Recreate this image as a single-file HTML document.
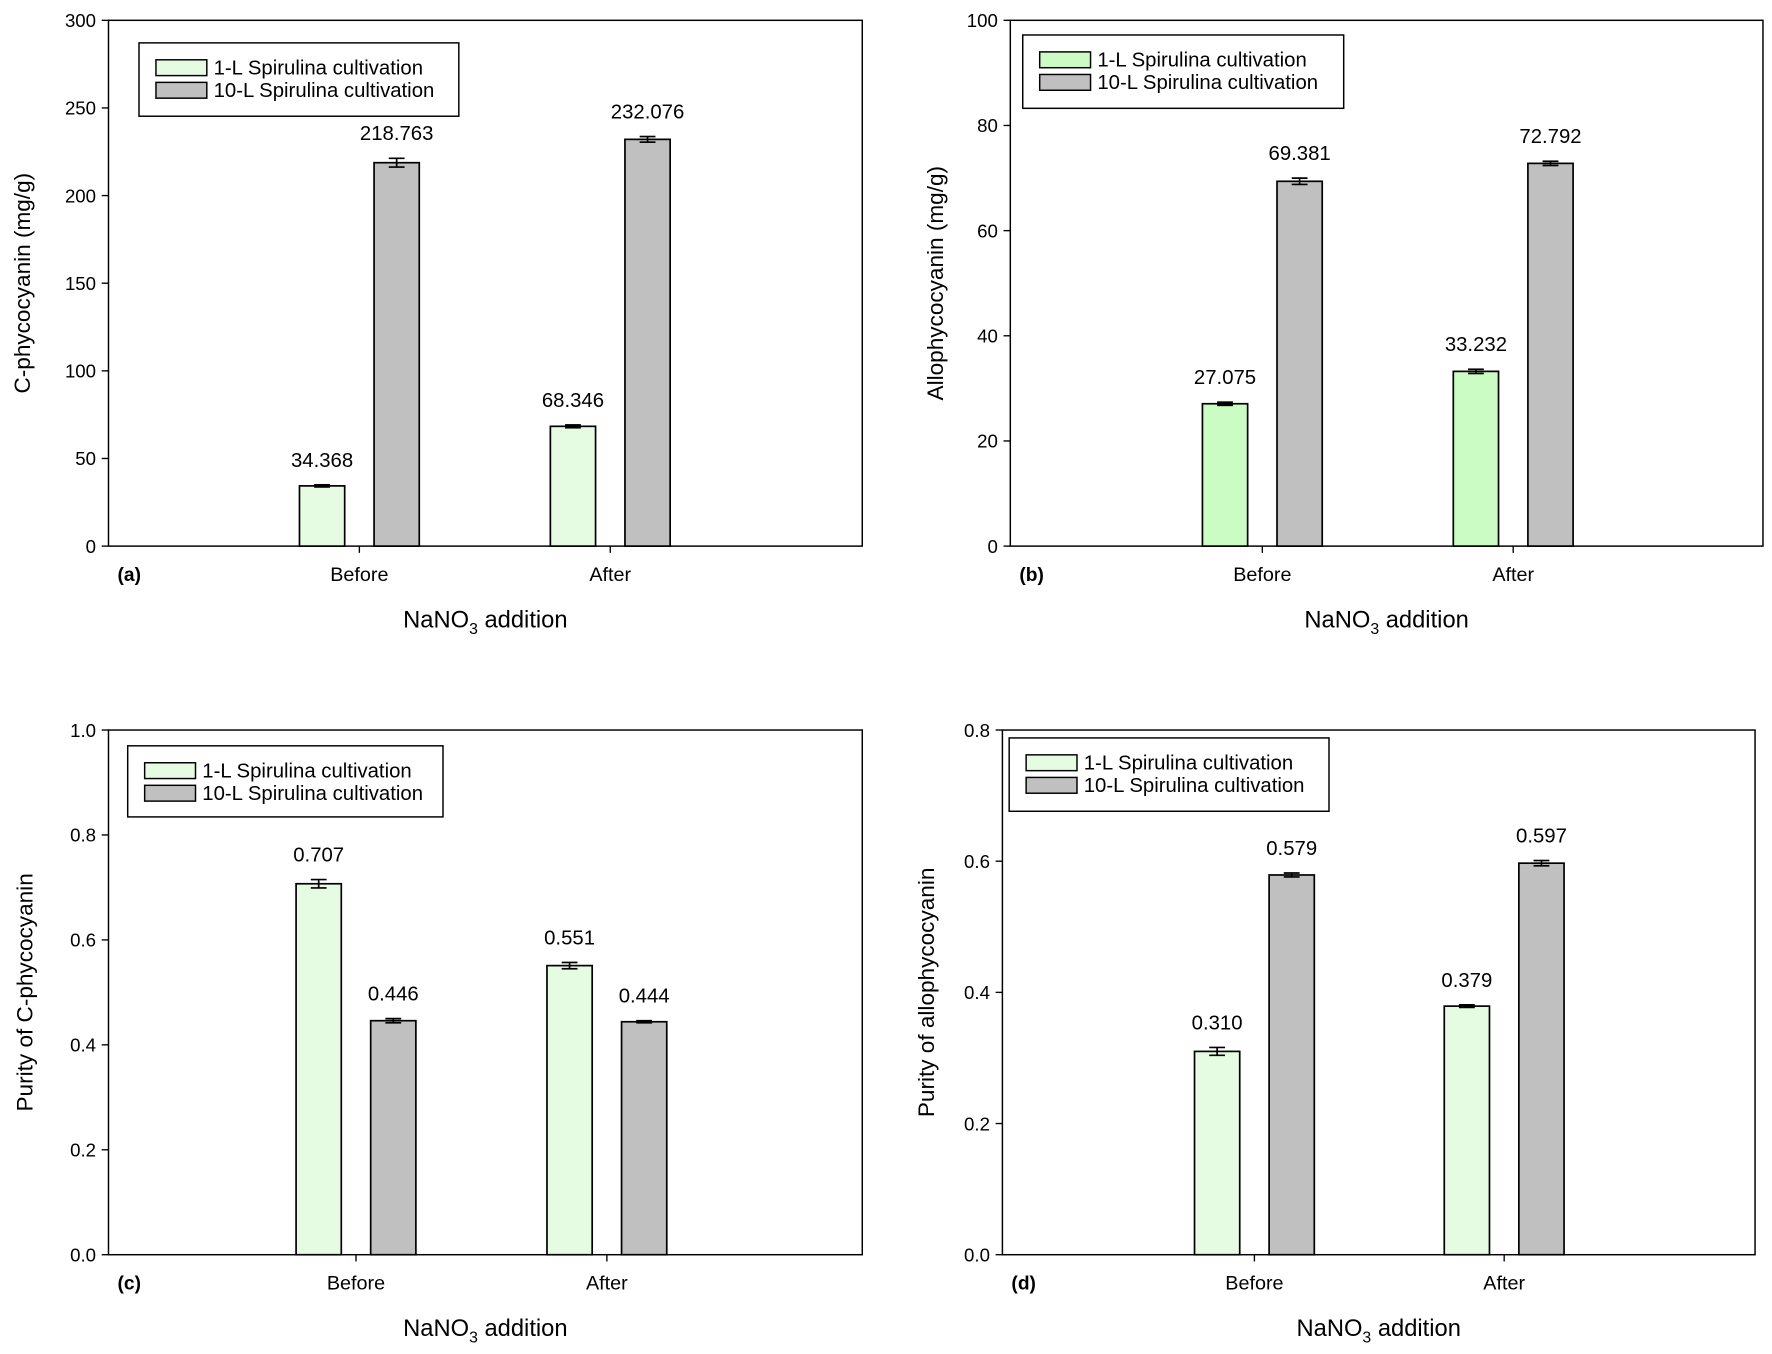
<!DOCTYPE html>
<html><head><meta charset="utf-8">
<style>
html,body{margin:0;padding:0;background:#fff;}
svg{display:block;font-family:"Liberation Sans",Arial,sans-serif;}
</style></head>
<body>
<svg id="fig" width="1772" height="1354" viewBox="0 0 1568 1200" preserveAspectRatio="none" xmlns="http://www.w3.org/2000/svg"></svg>
<script>
// ---- data ----
const categories = ["Before", "After"];
const seriesNames = ["1-L Spirulina cultivation", "10-L Spirulina cultivation"];
const aSmall = [34.368, 68.346];
const aLarge = [218.763, 232.076];
const aSmallErr = [0.6, 0.8];
const aLargeErr = [2.5, 1.6];
const aSmallLabels = ["34.368", "68.346"];
const aLargeLabels = ["218.763", "232.076"];
const aTicks = [0, 50, 100, 150, 200, 250, 300];
const bSmall = [27.075, 33.232];
const bLarge = [69.381, 72.792];
const bSmallErr = [0.3, 0.4];
const bLargeErr = [0.6, 0.4];
const bSmallLabels = ["27.075", "33.232"];
const bLargeLabels = ["69.381", "72.792"];
const bTicks = [0, 20, 40, 60, 80, 100];
const cSmall = [0.707, 0.551];
const cLarge = [0.446, 0.444];
const cSmallErr = [0.008, 0.006];
const cLargeErr = [0.004, 0.002];
const cSmallLabels = ["0.707", "0.551"];
const cLargeLabels = ["0.446", "0.444"];
const cTicks = ["0.0", "0.2", "0.4", "0.6", "0.8", "1.0"];
const dSmall = [0.310, 0.379];
const dLarge = [0.579, 0.597];
const dSmallErr = [0.006, 0.002];
const dLargeErr = [0.003, 0.004];
const dSmallLabels = ["0.310", "0.379"];
const dLargeLabels = ["0.579", "0.597"];
const dTicks = ["0.0", "0.2", "0.4", "0.6", "0.8"];

const NS = "http://www.w3.org/2000/svg";
const svg = document.getElementById("fig");
function mk(tag, attrs, parent, text) {
  const e = document.createElementNS(NS, tag);
  for (const k in attrs) e.setAttribute(k, attrs[k]);
  if (text !== undefined) e.textContent = text;
  (parent || svg).appendChild(e);
  return e;
}

const panels = [
  {id:"a", x0:96, x1:763, y0:18, y1:484, ticks:aTicks, small:aSmall, large:aLarge, se:aSmallErr, le:aLargeErr, sl:aSmallLabels, ll:aLargeLabels, ytitle:"C-phycocyanin (mg/g)", green:"#e6fce2", centers:[318,540], leg:[123,38,283,65], ytx:20},
  {id:"b", x0:894, x1:1560, y0:18, y1:484, ticks:bTicks, small:bSmall, large:bLarge, se:bSmallErr, le:bLargeErr, sl:bSmallLabels, ll:bLargeLabels, ytitle:"Allophycocyanin (mg/g)", green:"#cbfcc3", centers:[1117,1339], leg:[905,31,284,65], ytx:828},
  {id:"c", x0:96, x1:763, y0:647, y1:1112, ticks:cTicks, small:cSmall, large:cLarge, se:cSmallErr, le:cLargeErr, sl:cSmallLabels, ll:cLargeLabels, ytitle:"Purity of C-phycocyanin", green:"#e6fce2", centers:[315,537], leg:[113,661,279,63], ytx:22},
  {id:"d", x0:887, x1:1553, y0:647, y1:1112, ticks:dTicks, small:dSmall, large:dLarge, se:dSmallErr, le:dLargeErr, sl:dSmallLabels, ll:dLargeLabels, ytitle:"Purity of allophycocyanin", green:"#e6fce2", centers:[1110,1331], leg:[893,654,283,65], ytx:820}
];

panels.forEach(p => {
  const g = mk("g", {});
  
  
  const tmin = parseFloat(p.ticks[0]), tmax = parseFloat(p.ticks[p.ticks.length-1]);
  const y = v => p.y1 - (v - tmin) / (tmax - tmin) * (p.y1 - p.y0);
  const fr = mk("rect", {x:p.x0, y:p.y0, width:p.x1-p.x0, height:p.y1-p.y0, fill:"none", stroke:"#000", "stroke-width":1.3}, g);
  
  
  p.ticks.forEach(t => {
    const yy = y(parseFloat(t));
    mk("line", {x1:p.x0-6, x2:p.x0, y1:yy, y2:yy, stroke:"#000", "stroke-width":1.2}, g);
    const tl = mk("text", {x:p.x0-11, y:yy+6, "text-anchor":"end", "font-size":16.5}, g, String(t));
    
    
  });
  const cy = (p.y0 + p.y1) / 2;
  const yt = mk("text", {x:p.ytx, y:cy, transform:`rotate(-90 ${p.ytx} ${cy})`, "text-anchor":"middle", "dominant-baseline":"central", "font-size":20}, g, p.ytitle);
  
  
  const bw = 40, off = 33;
  categories.forEach((c, i) => {
    const cx = p.centers[i];
    mk("line", {x1:cx, x2:cx, y1:p.y1, y2:p.y1+6, stroke:"#000", "stroke-width":1.2}, g);
    const xl = mk("text", {x:cx, y:p.y1+31, "text-anchor":"middle", "font-size":17.5}, g, c);
    
    
    [[p.small, p.se, p.sl, p.green, -1, "small"], [p.large, p.le, p.ll, "#c0c0c0", 1, "large"]].forEach(([vals, errs, labs, col, dir, nm]) => {
      const bx = cx + dir * off - bw / 2;
      const top = y(vals[i]);
      const r = mk("rect", {x:bx, y:top, width:bw, height:p.y1-top, fill:col, stroke:"#000", "stroke-width":1.5}, g);
      
      
      const ex = bx + bw / 2;
      const eh = y(vals[i] + errs[i]), el = y(vals[i] - errs[i]);
      mk("line", {x1:ex, x2:ex, y1:eh, y2:el, stroke:"#000", "stroke-width":1.5}, g);
      mk("line", {x1:ex-7, x2:ex+7, y1:eh, y2:eh, stroke:"#000", "stroke-width":1.5}, g);
      mk("line", {x1:ex-7, x2:ex+7, y1:el, y2:el, stroke:"#000", "stroke-width":1.5}, g);
      const vl = mk("text", {x:ex, y:eh-16, "text-anchor":"middle", "font-size":18}, g, labs[i]);
      
      
    });
  });
  const pl = mk("text", {x:p.x0+8, y:p.y1+31, "font-size":17, "font-weight":"bold"}, g, "(" + p.id + ")");
  
  
  const xt = mk("text", {x:(p.x0+p.x1)/2, y:p.y1+72, "font-size":21, "text-anchor":"middle"}, g);
  
  
  mk("tspan", {}, xt, "NaNO");
  mk("tspan", {dy:6, "font-size":14}, xt, "3");
  mk("tspan", {dy:-6}, xt, " addition");
  const [lx, ly, lw, lh] = p.leg;
  const lg = mk("g", {}, g);
  
  
  mk("rect", {x:lx, y:ly, width:lw, height:lh, fill:"#fff", stroke:"#000", "stroke-width":1.3}, lg);
  [[p.green, seriesNames[0]], ["#c0c0c0", seriesNames[1]]].forEach(([col, nm], k) => {
    const sy = ly + 22 + k * 20;
    const sw = mk("rect", {x:lx+15, y:sy-7, width:45, height:14, fill:col, stroke:"#000", "stroke-width":1.3}, lg);
    
    
    const lt = mk("text", {x:lx+66, y:sy+6, "font-size":18}, lg, nm);
    
    
  });
});
</script>
</body></html>
